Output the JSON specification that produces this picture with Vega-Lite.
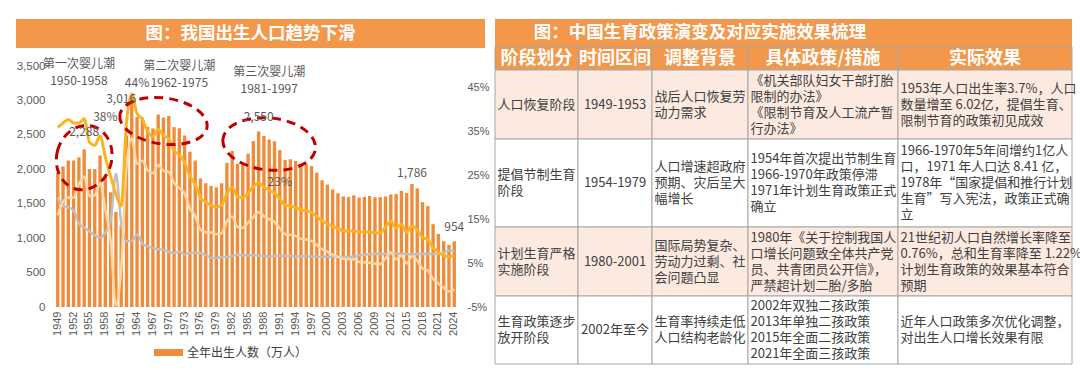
{
  "$schema": "https://vega.github.io/schema/vega-lite/v6.json",
  "background": "#FFFFFF",
  "padding": {"left": 16, "top": 19, "right": 0, "bottom": 0},
  "spacing": 4,
  "config": {"font": "Noto Sans CJK SC", "view": {"stroke": null}},
  "datasets": {
    "births": [
      {"year":1949,"births":1950,"br":36.0,"dr":20.0,"ng":16.0},
      {"year":1950,"births":2042,"br":37.0,"dr":18.0,"ng":19.0},
      {"year":1951,"births":2128,"br":37.8,"dr":17.8,"ng":20.0},
      {"year":1952,"births":2127,"br":37.0,"dr":17.0,"ng":20.0},
      {"year":1953,"births":2175,"br":37.0,"dr":14.0,"ng":23.0},
      {"year":1954,"births":2288,"br":37.97,"dr":13.18,"ng":24.79},
      {"year":1955,"births":2004,"br":32.6,"dr":12.28,"ng":20.32},
      {"year":1956,"births":2004,"br":31.9,"dr":11.4,"ng":20.5},
      {"year":1957,"births":2200,"br":34.03,"dr":10.8,"ng":23.23},
      {"year":1958,"births":1928,"br":29.22,"dr":11.98,"ng":17.24},
      {"year":1959,"births":1665,"br":24.78,"dr":14.59,"ng":10.19},
      {"year":1960,"births":1381,"br":20.86,"dr":25.43,"ng":-4.57},
      {"year":1961,"births":1187,"br":18.02,"dr":14.24,"ng":3.78},
      {"year":1962,"births":2491,"br":37.01,"dr":10.02,"ng":26.99},
      {"year":1963,"births":3016,"br":43.6,"dr":10.04,"ng":33.5},
      {"year":1964,"births":2759,"br":39.14,"dr":11.5,"ng":27.64},
      {"year":1965,"births":2748,"br":37.88,"dr":9.5,"ng":28.38},
      {"year":1966,"births":2613,"br":35.05,"dr":8.83,"ng":26.22},
      {"year":1967,"births":2593,"br":33.96,"dr":8.43,"ng":25.53},
      {"year":1968,"births":2795,"br":35.59,"dr":8.21,"ng":27.38},
      {"year":1969,"births":2752,"br":34.11,"dr":8.03,"ng":26.08},
      {"year":1970,"births":2774,"br":33.43,"dr":7.6,"ng":25.83},
      {"year":1971,"births":2612,"br":30.65,"dr":7.32,"ng":23.33},
      {"year":1972,"births":2595,"br":29.77,"dr":7.61,"ng":22.16},
      {"year":1973,"births":2492,"br":27.93,"dr":7.04,"ng":20.89},
      {"year":1974,"births":2255,"br":24.82,"dr":7.34,"ng":17.48},
      {"year":1975,"births":2127,"br":23.01,"dr":7.32,"ng":15.69},
      {"year":1976,"births":1866,"br":19.91,"dr":7.25,"ng":12.66},
      {"year":1977,"births":1798,"br":18.93,"dr":6.87,"ng":12.06},
      {"year":1978,"births":1757,"br":18.25,"dr":6.25,"ng":12.0},
      {"year":1979,"births":1738,"br":17.82,"dr":6.21,"ng":11.61},
      {"year":1980,"births":1797,"br":18.21,"dr":6.34,"ng":11.87},
      {"year":1981,"births":2093,"br":20.91,"dr":6.36,"ng":14.55},
      {"year":1982,"births":2265,"br":22.28,"dr":6.6,"ng":15.68},
      {"year":1983,"births":2080,"br":20.19,"dr":6.9,"ng":13.29},
      {"year":1984,"births":2077,"br":19.9,"dr":6.82,"ng":13.08},
      {"year":1985,"births":2227,"br":21.04,"dr":6.78,"ng":14.26},
      {"year":1986,"births":2411,"br":22.43,"dr":6.86,"ng":15.57},
      {"year":1987,"births":2550,"br":23.33,"dr":6.72,"ng":16.61},
      {"year":1988,"births":2484,"br":22.37,"dr":6.64,"ng":15.73},
      {"year":1989,"births":2432,"br":21.58,"dr":6.54,"ng":15.04},
      {"year":1990,"births":2408,"br":21.06,"dr":6.67,"ng":14.39},
      {"year":1991,"births":2279,"br":19.68,"dr":6.7,"ng":12.98},
      {"year":1992,"births":2137,"br":18.24,"dr":6.64,"ng":11.6},
      {"year":1993,"births":2144,"br":18.09,"dr":6.64,"ng":11.45},
      {"year":1994,"births":2121,"br":17.7,"dr":6.49,"ng":11.21},
      {"year":1995,"births":2074,"br":17.12,"dr":6.57,"ng":10.55},
      {"year":1996,"births":2078,"br":16.98,"dr":6.56,"ng":10.42},
      {"year":1997,"births":2048,"br":16.57,"dr":6.51,"ng":10.06},
      {"year":1998,"births":1951,"br":15.64,"dr":6.5,"ng":9.14},
      {"year":1999,"births":1842,"br":14.64,"dr":6.46,"ng":8.18},
      {"year":2000,"births":1778,"br":14.03,"dr":6.45,"ng":7.58},
      {"year":2001,"births":1708,"br":13.38,"dr":6.43,"ng":6.95},
      {"year":2002,"births":1652,"br":12.86,"dr":6.41,"ng":6.45},
      {"year":2003,"births":1604,"br":12.41,"dr":6.4,"ng":6.01},
      {"year":2004,"births":1598,"br":12.29,"dr":6.42,"ng":5.87},
      {"year":2005,"births":1621,"br":12.4,"dr":6.51,"ng":5.89},
      {"year":2006,"births":1589,"br":12.09,"dr":6.81,"ng":5.28},
      {"year":2007,"births":1599,"br":12.1,"dr":6.93,"ng":5.17},
      {"year":2008,"births":1612,"br":12.14,"dr":7.06,"ng":5.08},
      {"year":2009,"births":1595,"br":11.95,"dr":7.08,"ng":4.87},
      {"year":2010,"births":1596,"br":11.9,"dr":7.11,"ng":4.79},
      {"year":2011,"births":1604,"br":13.27,"dr":7.14,"ng":6.13},
      {"year":2012,"births":1635,"br":14.57,"dr":7.13,"ng":7.43},
      {"year":2013,"births":1640,"br":13.03,"dr":7.13,"ng":5.9},
      {"year":2014,"births":1687,"br":13.83,"dr":7.12,"ng":6.71},
      {"year":2015,"births":1655,"br":11.99,"dr":7.07,"ng":4.93},
      {"year":2016,"births":1786,"br":13.57,"dr":7.04,"ng":6.53},
      {"year":2017,"births":1723,"br":12.64,"dr":7.06,"ng":5.58},
      {"year":2018,"births":1523,"br":10.86,"dr":7.08,"ng":3.78},
      {"year":2019,"births":1465,"br":10.41,"dr":7.09,"ng":3.32},
      {"year":2020,"births":1202,"br":8.52,"dr":7.07,"ng":1.45},
      {"year":2021,"births":1062,"br":7.52,"dr":7.18,"ng":0.34},
      {"year":2022,"births":956,"br":6.77,"dr":7.37,"ng":-0.6},
      {"year":2023,"births":902,"br":6.39,"dr":7.87,"ng":-1.48},
      {"year":2024,"births":954,"br":6.77,"dr":7.76,"ng":-0.99}
    ],
    "ann": [
      {"year":1953,"v":3525,"t":"第一次婴儿潮"},
      {"year":1953,"v":3285,"t":"1950-1958"},
      {"year":1972,"v":3495,"t":"第二次婴儿潮"},
      {"year":1964,"v":3255,"t":"44%"},
      {"year":1972,"v":3255,"t":"1962-1975"},
      {"year":1989,"v":3410,"t":"第三次婴儿潮"},
      {"year":1989,"v":3170,"t":"1981-1997"},
      {"year":1961,"v":3020,"t":"3,016"},
      {"year":1958,"v":2759,"t":"38%"},
      {"year":1954,"v":2541,"t":"2,288"},
      {"year":1987,"v":2759,"t":"2,550"},
      {"year":1991,"v":1815,"t":"23%"},
      {"year":2016,"v":1946,"t":"1,786"},
      {"year":2024,"v":1162,"t":"954"}
    ],
    "ell": [
      {"id":1,"year":1954,"v":2170},
      {"id":2,"year":1969,"v":2701},
      {"id":3,"year":1989,"v":2367}
    ],
    "grid": [
      {"c0":0,"c1":5,"r0":0,"r1":1,"kind":"title"},
      {"c0":0,"c1":1,"r0":1,"r1":2,"kind":"header"},
      {"c0":1,"c1":2,"r0":1,"r1":2,"kind":"header"},
      {"c0":2,"c1":3,"r0":1,"r1":2,"kind":"header"},
      {"c0":3,"c1":4,"r0":1,"r1":2,"kind":"header"},
      {"c0":4,"c1":5,"r0":1,"r1":2,"kind":"header"},
      {"c0":0,"c1":1,"r0":2,"r1":3,"kind":"odd"},
      {"c0":1,"c1":2,"r0":2,"r1":3,"kind":"odd"},
      {"c0":2,"c1":3,"r0":2,"r1":3,"kind":"odd"},
      {"c0":3,"c1":4,"r0":2,"r1":3,"kind":"odd"},
      {"c0":4,"c1":5,"r0":2,"r1":3,"kind":"odd"},
      {"c0":0,"c1":1,"r0":3,"r1":4,"kind":"even"},
      {"c0":1,"c1":2,"r0":3,"r1":4,"kind":"even"},
      {"c0":2,"c1":3,"r0":3,"r1":4,"kind":"even"},
      {"c0":3,"c1":4,"r0":3,"r1":4,"kind":"even"},
      {"c0":4,"c1":5,"r0":3,"r1":4,"kind":"even"},
      {"c0":0,"c1":1,"r0":4,"r1":5,"kind":"odd"},
      {"c0":1,"c1":2,"r0":4,"r1":5,"kind":"odd"},
      {"c0":2,"c1":3,"r0":4,"r1":5,"kind":"odd"},
      {"c0":3,"c1":4,"r0":4,"r1":5,"kind":"odd"},
      {"c0":4,"c1":5,"r0":4,"r1":5,"kind":"odd"},
      {"c0":0,"c1":1,"r0":5,"r1":6,"kind":"even"},
      {"c0":1,"c1":2,"r0":5,"r1":6,"kind":"even"},
      {"c0":2,"c1":3,"r0":5,"r1":6,"kind":"even"},
      {"c0":3,"c1":4,"r0":5,"r1":6,"kind":"even"},
      {"c0":4,"c1":5,"r0":5,"r1":6,"kind":"even"}
    ],
    "texts": [
      {"row":0,"col":2.5,"kind":"title","t":"图：中国生育政策演变及对应实施效果梳理"},
      {"row":1,"col":0,"kind":"header","t":"阶段划分"},
      {"row":1,"col":1,"kind":"header","t":"时间区间"},
      {"row":1,"col":2,"kind":"header","t":"调整背景"},
      {"row":1,"col":3,"kind":"header","t":"具体政策/措施"},
      {"row":1,"col":4,"kind":"header","t":"实际效果"},
      {"row":2,"col":0,"kind":"body","t":["人口恢复阶段"]},
      {"row":2,"col":1,"kind":"time","t":"1949-1953"},
      {"row":2,"col":2,"kind":"body","t":["战后人口恢复劳","动力需求"]},
      {"row":2,"col":3,"kind":"body","t":["《机关部队妇女干部打胎","限制的办法》","《限制节育及人工流产暂","行办法》"]},
      {"row":2,"col":4,"kind":"body","t":["1953年人口出生率3.7%，人口","数量增至 6.02亿，提倡生育、","限制节育的政策初见成效"]},
      {"row":3,"col":0,"kind":"body","t":["提倡节制生育","阶段"]},
      {"row":3,"col":1,"kind":"time","t":"1954-1979"},
      {"row":3,"col":2,"kind":"body","t":["人口增速超政府","预期、灾后呈大","幅增长"]},
      {"row":3,"col":3,"kind":"body","t":["1954年首次提出节制生育","1966-1970年政策停滞","1971年计划生育政策正式","确立"]},
      {"row":3,"col":4,"kind":"body","t":["1966-1970年5年间增约1亿人","口，1971 年人口达 8.41 亿，","1978年“国家提倡和推行计划","生育”写入宪法，政策正式确","立"]},
      {"row":4,"col":0,"kind":"body","t":["计划生育严格","实施阶段"]},
      {"row":4,"col":1,"kind":"time","t":"1980-2001"},
      {"row":4,"col":2,"kind":"body","t":["国际局势复杂、","劳动力过剩、社","会问题凸显"]},
      {"row":4,"col":3,"kind":"body","t":["1980年《关于控制我国人","口增长问题致全体共产党","员、共青团员公开信》，","严禁超计划二胎/多胎"]},
      {"row":4,"col":4,"kind":"body","t":["21世纪初人口自然增长率降至","0.76%，总和生育率降至 1.22%","计划生育政策的效果基本符合","预期"]},
      {"row":5,"col":0,"kind":"body","t":["生育政策逐步","放开阶段"]},
      {"row":5,"col":1,"kind":"time","t":"2002年至今"},
      {"row":5,"col":2,"kind":"body","t":["生育率持续走低","人口结构老龄化"]},
      {"row":5,"col":3,"kind":"body","t":["2002年双独二孩政策","2013年单独二孩政策","2015年全面二孩政策","2021年全面三孩政策"]},
      {"row":5,"col":4,"kind":"body","t":["近年人口政策多次优化调整，","对出生人口增长效果有限"]}
    ]
  },
  "hconcat": [
    {
      "vconcat": [
        {
          "width": 469,
          "height": 29,
          "view": {"fill": "#F3974A", "stroke": null},
          "data": {"values": [{"t": "图：我国出生人口趋势下滑"}]},
          "mark": {"type": "text", "color": "#FFFFFF", "fontSize": 17.5, "fontWeight": "bold", "baseline": "middle", "align": "center"},
          "encoding": {"text": {"field": "t", "type": "nominal"}}
        },
        {
          "width": 441,
          "height": 241,
          "layer": [
            {
              "data": {"name": "births"},
              "mark": {"type": "bar"},
              "encoding": {
                "x": {"field": "year", "type": "ordinal",
                  "scale": {"range": [39, 441], "paddingInner": 0.36, "paddingOuter": 0.2},
                  "axis": {"title": null, "values": [1949,1952,1955,1958,1961,1964,1967,1970,1973,1976,1979,1982,1985,1988,1991,1994,1997,2000,2003,2006,2009,2012,2015,2018,2021,2024],
                    "labelAngle": -90, "labelFontSize": 11, "labelColor": "#595959", "labelFont": "Liberation Sans", "ticks": false, "domain": false, "labelPadding": 4}},
                "y": {"field": "births", "type": "quantitative",
                  "scale": {"domain": [0, 3500], "nice": false},
                  "axis": {"orient": "left", "offset": -39, "title": null, "values": [0,500,1000,1500,2000,2500,3000,3500], "format": ",.0f", "grid": false, "ticks": false, "domain": false,
                    "labelFontSize": 11.5, "labelColor": "#595959", "labelFont": "Liberation Sans", "labelPadding": 10}},
                "color": {"datum": "全年出生人数（万人）", "type": "nominal",
                  "scale": {"range": ["#EF8C3B"]},
                  "legend": {"orient": "none", "legendX": 138, "legendY": 319, "direction": "horizontal", "title": null,
                    "symbolType": "M-1,-0.24H1V0.24H-1Z", "symbolSize": 841, "symbolStrokeWidth": 0,
                    "labelFontSize": 12, "labelColor": "#404040", "labelOffset": 4}}
              }
            },
            {
              "data": {"name": "births"},
              "mark": {"type": "line", "color": "#BFBFBF", "strokeWidth": 2.5, "interpolate": "monotone"},
              "encoding": {
                "x": {"field": "year", "type": "ordinal"},
                "y": {"field": "dr", "type": "quantitative",
                  "scale": {"domain": [-5, 50], "nice": false, "zero": false},
                  "axis": {"orient": "right", "title": null, "values": [-5,5,15,25,35,45], "labelExpr": "datum.value + '%'", "grid": false, "ticks": false, "domain": false,
                    "labelFontSize": 11, "labelColor": "#595959", "labelFont": "Liberation Sans", "labelPadding": 10}}
              }
            },
            {
              "data": {"name": "births"},
              "mark": {"type": "line", "color": "#FCD7A4", "strokeWidth": 2.5, "interpolate": "monotone"},
              "encoding": {
                "x": {"field": "year", "type": "ordinal"},
                "y": {"field": "ng", "type": "quantitative", "scale": {"domain": [-5, 50], "nice": false, "zero": false}, "axis": null}
              }
            },
            {
              "data": {"name": "births"},
              "mark": {"type": "line", "color": "#FBB320", "strokeWidth": 3, "interpolate": "monotone"},
              "encoding": {
                "x": {"field": "year", "type": "ordinal"},
                "y": {"field": "br", "type": "quantitative", "scale": {"domain": [-5, 50], "nice": false, "zero": false}, "axis": null}
              }
            },
            {
              "data": {"name": "ell"},
              "transform": [{"filter": "datum.id == 1"}],
              "mark": {"type": "point", "filled": false, "stroke": "#C00000", "strokeWidth": 3, "strokeDash": [9, 6], "opacity": 1,
                "shape": "M -0.846 0 A 0.846 1 0 1 0 0.846 0 A 0.846 1 0 1 0 -0.846 0 Z", "size": 4225, "angle": 15},
              "encoding": {
                "x": {"field": "year", "type": "ordinal"},
                "y": {"field": "v", "type": "quantitative", "scale": {"domain": [0, 3500], "nice": false}, "axis": null}
              }
            },
            {
              "data": {"name": "ell"},
              "transform": [{"filter": "datum.id == 2"}],
              "mark": {"type": "point", "filled": false, "stroke": "#C00000", "strokeWidth": 3, "strokeDash": [9, 6], "opacity": 1,
                "shape": "M -1 0 A 1 0.523 0 1 0 1 0 A 1 0.523 0 1 0 -1 0 Z", "size": 7744, "angle": 8},
              "encoding": {
                "x": {"field": "year", "type": "ordinal"},
                "y": {"field": "v", "type": "quantitative", "scale": {"domain": [0, 3500], "nice": false}, "axis": null}
              }
            },
            {
              "data": {"name": "ell"},
              "transform": [{"filter": "datum.id == 3"}],
              "mark": {"type": "point", "filled": false, "stroke": "#C00000", "strokeWidth": 3, "strokeDash": [9, 6], "opacity": 1,
                "shape": "M -1 0 A 1 0.56 0 1 0 1 0 A 1 0.56 0 1 0 -1 0 Z", "size": 8649, "angle": 6},
              "encoding": {
                "x": {"field": "year", "type": "ordinal"},
                "y": {"field": "v", "type": "quantitative", "scale": {"domain": [0, 3500], "nice": false}, "axis": null}
              }
            },
            {
              "data": {"name": "ann"},
              "mark": {"type": "text", "fontSize": 12, "color": "#595959", "baseline": "middle", "align": "center"},
              "encoding": {
                "x": {"field": "year", "type": "ordinal"},
                "y": {"field": "v", "type": "quantitative", "scale": {"domain": [0, 3500], "nice": false}, "axis": null},
                "text": {"field": "t", "type": "nominal"}
              }
            }
          ],
          "resolve": {"scale": {"y": "independent"}}
        }
      ],
      "spacing": 10
    },
    {
      "width": 577,
      "height": 345,
      "layer": [
        {
          "data": {"name": "grid"},
          "transform": [{"filter": "datum.kind == 'title'"}],
          "mark": {"type": "rect", "fill": "#F3974A"},
          "encoding": {
            "x": {"field": "c0", "type": "quantitative", "scale": {"type": "linear", "domain": [0,1,2,3,4,5], "range": [0,83,157,253,403,577], "zero": false, "nice": false}, "axis": null},
            "x2": {"field": "c1"},
            "y": {"field": "r0", "type": "quantitative", "scale": {"type": "linear", "domain": [0,1,2,3,4,5,6], "range": [0,28,51,120,208,277,345], "zero": false, "nice": false}, "axis": null},
            "y2": {"field": "r1"}
          }
        },
        {
          "data": {"name": "grid"},
          "transform": [{"filter": "datum.kind != 'title'"}],
          "mark": {"type": "rect", "stroke": "#A6A6A6", "strokeWidth": 1},
          "encoding": {
            "x": {"field": "c0", "type": "quantitative", "scale": {"type": "linear", "domain": [0,1,2,3,4,5], "range": [0,83,157,253,403,577], "zero": false, "nice": false}, "axis": null},
            "x2": {"field": "c1"},
            "y": {"field": "r0", "type": "quantitative", "scale": {"type": "linear", "domain": [0,1,2,3,4,5,6], "range": [0,28,51,120,208,277,345], "zero": false, "nice": false}, "axis": null},
            "y2": {"field": "r1"},
            "fill": {"field": "kind", "type": "nominal", "scale": {"domain": ["header","odd","even"], "range": ["#F3974A","#FCEAE1","#FFFFFF"]}, "legend": null}
          }
        },
        {
          "data": {"name": "texts"},
          "transform": [{"filter": "datum.kind == 'title'"}],
          "mark": {"type": "text", "color": "#FFFFFF", "fontSize": 17.5, "fontWeight": "bold", "baseline": "middle", "align": "center"},
          "encoding": {
            "x": {"field": "col", "type": "quantitative", "scale": {"type": "linear", "domain": [0,1,2,3,4,5], "range": [0,83,157,253,403,577], "zero": false, "nice": false}, "axis": null},
            "y": {"field": "row", "type": "quantitative", "scale": {"type": "linear", "domain": [0,1,2,3,4,5], "range": [14,39.5,85.5,164,242.5,311], "zero": false, "nice": false}, "axis": null},
            "text": {"field": "t", "type": "nominal"}
          }
        },
        {
          "data": {"name": "texts"},
          "transform": [{"filter": "datum.kind == 'header'"}],
          "mark": {"type": "text", "color": "#FFFFFF", "fontSize": 18, "fontWeight": "bold", "baseline": "middle", "align": "center"},
          "encoding": {
            "x": {"field": "col", "type": "quantitative", "scale": {"type": "linear", "domain": [0,1,2,3,4], "range": [41.5,120,205,328,490], "zero": false, "nice": false}, "axis": null},
            "y": {"field": "row", "type": "quantitative", "scale": {"type": "linear", "domain": [0,1,2,3,4,5], "range": [14,39.5,85.5,164,242.5,311], "zero": false, "nice": false}, "axis": null},
            "text": {"field": "t", "type": "nominal"}
          }
        },
        {
          "data": {"name": "texts"},
          "transform": [{"filter": "datum.kind == 'time'"}],
          "mark": {"type": "text", "color": "#404040", "fontSize": 13, "font": "Liberation Sans Narrow, Noto Sans CJK SC", "baseline": "middle", "align": "center"},
          "encoding": {
            "x": {"field": "col", "type": "quantitative", "scale": {"type": "linear", "domain": [0,1,2,3,4], "range": [41.5,120,205,328,490], "zero": false, "nice": false}, "axis": null},
            "y": {"field": "row", "type": "quantitative", "scale": {"type": "linear", "domain": [0,1,2,3,4,5], "range": [14,39.5,85.5,164,242.5,311], "zero": false, "nice": false}, "axis": null},
            "text": {"field": "t", "type": "nominal"}
          }
        },
        {
          "data": {"name": "texts"},
          "transform": [{"filter": "datum.kind == 'body' && length(datum.t) == 1"}],
          "mark": {"type": "text", "color": "#404040", "fontSize": 13, "font": "Liberation Sans Narrow, Noto Sans CJK SC", "baseline": "middle", "align": "left", "lineHeight": 16},
          "encoding": {
            "x": {"field": "col", "type": "quantitative", "scale": {"type": "linear", "domain": [0,1,2,3,4], "range": [2.5,85.5,159.5,255.5,405.5], "zero": false, "nice": false}, "axis": null},
            "y": {"field": "row", "type": "quantitative", "scale": {"type": "linear", "domain": [0,1,2,3,4,5], "range": [14,39.5,85.5,164,242.5,311], "zero": false, "nice": false}, "axis": null},
            "text": {"field": "t", "type": "nominal"}
          }
        },
        {
          "data": {"name": "texts"},
          "transform": [{"filter": "datum.kind == 'body' && length(datum.t) == 2"}],
          "mark": {"type": "text", "color": "#404040", "fontSize": 13, "font": "Liberation Sans Narrow, Noto Sans CJK SC", "baseline": "middle", "align": "left", "lineHeight": 16, "dy": -8},
          "encoding": {
            "x": {"field": "col", "type": "quantitative", "scale": {"type": "linear", "domain": [0,1,2,3,4], "range": [2.5,85.5,159.5,255.5,405.5], "zero": false, "nice": false}, "axis": null},
            "y": {"field": "row", "type": "quantitative", "scale": {"type": "linear", "domain": [0,1,2,3,4,5], "range": [14,39.5,85.5,164,242.5,311], "zero": false, "nice": false}, "axis": null},
            "text": {"field": "t", "type": "nominal"}
          }
        },
        {
          "data": {"name": "texts"},
          "transform": [{"filter": "datum.kind == 'body' && length(datum.t) == 3"}],
          "mark": {"type": "text", "color": "#404040", "fontSize": 13, "font": "Liberation Sans Narrow, Noto Sans CJK SC", "baseline": "middle", "align": "left", "lineHeight": 16, "dy": -16},
          "encoding": {
            "x": {"field": "col", "type": "quantitative", "scale": {"type": "linear", "domain": [0,1,2,3,4], "range": [2.5,85.5,159.5,255.5,405.5], "zero": false, "nice": false}, "axis": null},
            "y": {"field": "row", "type": "quantitative", "scale": {"type": "linear", "domain": [0,1,2,3,4,5], "range": [14,39.5,85.5,164,242.5,311], "zero": false, "nice": false}, "axis": null},
            "text": {"field": "t", "type": "nominal"}
          }
        },
        {
          "data": {"name": "texts"},
          "transform": [{"filter": "datum.kind == 'body' && length(datum.t) == 4"}],
          "mark": {"type": "text", "color": "#404040", "fontSize": 13, "font": "Liberation Sans Narrow, Noto Sans CJK SC", "baseline": "middle", "align": "left", "lineHeight": 16, "dy": -24},
          "encoding": {
            "x": {"field": "col", "type": "quantitative", "scale": {"type": "linear", "domain": [0,1,2,3,4], "range": [2.5,85.5,159.5,255.5,405.5], "zero": false, "nice": false}, "axis": null},
            "y": {"field": "row", "type": "quantitative", "scale": {"type": "linear", "domain": [0,1,2,3,4,5], "range": [14,39.5,85.5,164,242.5,311], "zero": false, "nice": false}, "axis": null},
            "text": {"field": "t", "type": "nominal"}
          }
        },
        {
          "data": {"name": "texts"},
          "transform": [{"filter": "datum.kind == 'body' && length(datum.t) == 5"}],
          "mark": {"type": "text", "color": "#404040", "fontSize": 13, "font": "Liberation Sans Narrow, Noto Sans CJK SC", "baseline": "middle", "align": "left", "lineHeight": 16, "dy": -32},
          "encoding": {
            "x": {"field": "col", "type": "quantitative", "scale": {"type": "linear", "domain": [0,1,2,3,4], "range": [2.5,85.5,159.5,255.5,405.5], "zero": false, "nice": false}, "axis": null},
            "y": {"field": "row", "type": "quantitative", "scale": {"type": "linear", "domain": [0,1,2,3,4,5], "range": [14,39.5,85.5,164,242.5,311], "zero": false, "nice": false}, "axis": null},
            "text": {"field": "t", "type": "nominal"}
          }
        }
      ],
      "resolve": {"scale": {"x": "independent", "y": "independent", "fill": "independent"}}
    }
  ]
}
